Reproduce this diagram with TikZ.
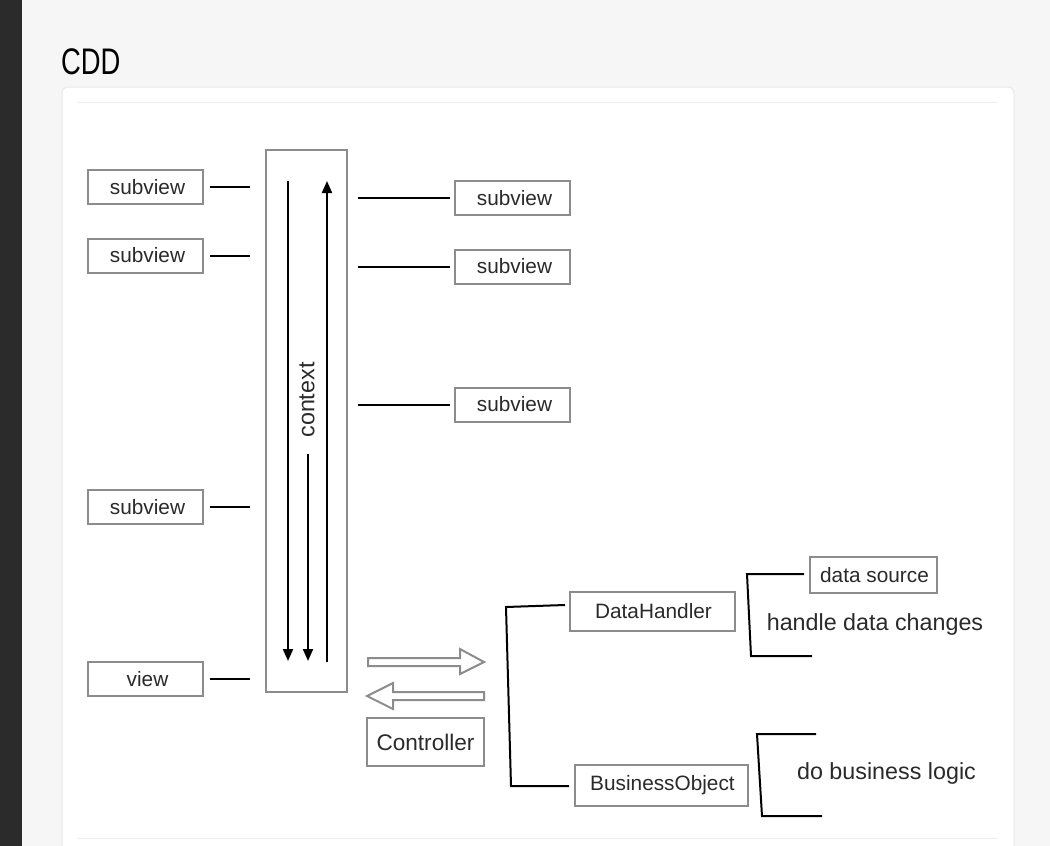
\documentclass[tikz,border=0pt]{standalone}
\usepackage{fontspec}
\setmainfont{Liberation Sans}
\usetikzlibrary{arrows.meta,calc}
\definecolor{pagebg}{HTML}{F6F6F6}
\definecolor{sidebar}{HTML}{2B2B2B}
\definecolor{boxline}{HTML}{8C8C8C}
\definecolor{ink}{HTML}{2A2A2A}
\definecolor{rule}{HTML}{EFEFEF}
\definecolor{cardedge}{HTML}{E8E8E8}
\tikzset{
  box/.style={draw=boxline, line width=2pt, fill=white, inner sep=0pt, text=ink,
    font=\fontsize{20.8}{24}\selectfont},
  plain/.style={inner sep=0pt, text=ink, font=\fontsize{23.3}{26}\selectfont},
  link/.style={line width=2pt, draw=black},
  flow/.style={line width=2pt, draw=black, -{Triangle[length=12pt,width=10pt]}},
  hollow/.style={draw=boxline, line width=2pt, fill=white, line join=miter},
}
\begin{document}
\begin{tikzpicture}[x=1pt,y=-1pt]
% page
\useasboundingbox (0,0) rectangle (1050,846);
\fill[pagebg] (0,0) rectangle (1050,846);
\fill[sidebar] (0,0) rectangle (22,846);
\node[anchor=west, inner sep=0pt, text=black] (title) at (61,62)
  {\scalebox{0.74}[1]{\fontsize{37}{40}\selectfont CDD}};
% card
\draw[cardedge, line width=1pt, fill=white, rounded corners=6pt] (62,87) rectangle (1014,870);
\draw[rule, line width=1pt] (77,102) -- (998,102);
\draw[rule, line width=1pt] (77,838) -- (998,838);

% context column
\node[box, minimum width=81pt, minimum height=542pt] (ctx) at (306.5,421) {};
\node[plain, rotate=90] (ctxlabel) at (307,400) {context};
\coordinate (d1s) at (288,181);  \coordinate (d1e) at (288,661);
\coordinate (d2s) at (308,454);  \coordinate (d2e) at (308,661);
\coordinate (u1s) at (327,662);  \coordinate (u1e) at (327,181);
\draw[flow] (d1s) -- (d1e);
\draw[flow] (d2s) -- (d2e);
\draw[flow] (u1s) -- (u1e);

% left views
\node[box, minimum width=115pt, minimum height=34pt] (lsv1) at (145.5,187) {\hspace*{4pt}subview};
\node[box, minimum width=115pt, minimum height=34pt] (lsv2) at (145.5,255.5) {\hspace*{4pt}subview};
\node[box, minimum width=115pt, minimum height=34pt] (lsv3) at (145.5,507) {\hspace*{4pt}subview};
\node[box, minimum width=115pt, minimum height=34pt] (view) at (145.5,679) {\hspace*{4pt}view};
\foreach \n in {lsv1,lsv2,lsv3,view}
  \draw[link] ([xshift=6pt]\n.east) -- ([xshift=-15pt]\n.east -| ctx.west);

% right views
\node[box, minimum width=115pt, minimum height=34pt] (rsv1) at (512.5,198) {\hspace*{4pt}subview};
\node[box, minimum width=115pt, minimum height=34pt] (rsv2) at (512.5,266.5) {\hspace*{4pt}subview};
\node[box, minimum width=115pt, minimum height=34pt] (rsv3) at (512.5,404.5) {\hspace*{4pt}subview};
\foreach \n in {rsv1,rsv2,rsv3}
  \draw[link] ([xshift=10pt]\n.west -| ctx.east) -- ([xshift=-4pt]\n.west);

% controller with hollow arrows
\draw[hollow] (368,658) -- (460,658) -- (460,649) -- (484,662) -- (460,674) -- (460,666) -- (368,666) -- cycle;
\draw[hollow] (484,692) -- (393,692) -- (393,683) -- (367,696) -- (393,709) -- (393,700) -- (484,700) -- cycle;
\node[box, minimum width=117pt, minimum height=48pt, font=\fontsize{22.6}{26}\selectfont] (ctrl) at (425.5,742) {Controller};

% handler and business object
\node[box, minimum width=165pt, minimum height=39pt] (dh) at (652.5,611.5) {\hspace*{2pt}DataHandler};
\node[box, minimum width=173pt, minimum height=41pt] (bo) at (661.5,785.5) {\hspace*{2pt}BusinessObject};
\coordinate (dhin) at (565,605);
\coordinate (brtop) at (506,607);
\coordinate (brbot) at (511,786);
\draw[link] (dhin) -- (brtop) -- (brbot) -- ([xshift=-5pt]bo.west |- brbot);

% data handler duties
\node[box, minimum width=127pt, minimum height=36pt] (ds) at (873.5,575) {\hspace*{2pt}data source};
\node[plain] (hdc) at (875,624) {handle data changes};
\coordinate (dhtop) at (747,574);
\coordinate (dhbot) at (751,656);
\draw[link] ([xshift=-5pt]ds.west |- dhtop) -- (dhtop) -- (dhbot) -- (812,656);

% business object duties
\node[plain] (dbl) at (886.5,773) {do business logic};
\coordinate (botop) at (757,734);
\coordinate (bobot) at (762,816);
\draw[link] (816,734) -- (botop) -- (bobot) -- (822,816);
\end{tikzpicture}
\end{document}
